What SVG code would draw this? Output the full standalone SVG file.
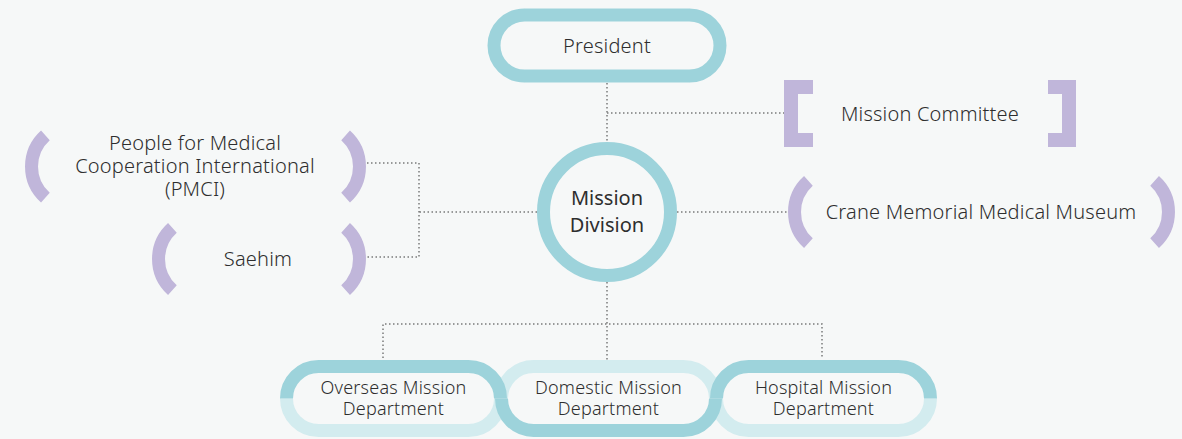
<svg xmlns="http://www.w3.org/2000/svg" width="1182" height="439" viewBox="0 0 1182 439">
<defs>
<style>
.bg{fill:#f6f8f8}
.t{font-family:"Noto Sans","Liberation Sans",sans-serif;fill:#2e2e2e;text-anchor:middle;font-weight:350;letter-spacing:0.2px}
.f20{font-size:20px}
.f18{font-size:18px}
.dk{fill:none;stroke:#9dd3db;stroke-width:13}
.lt{fill:none;stroke:#d3ecef;stroke-width:13}
.par{fill:none;stroke:#c0b6da;stroke-width:13}
.brk{fill:#c0b6da}
.dot{fill:none;stroke:#7a7a7a;stroke-width:1.5;stroke-dasharray:1.5 2.5}
</style>
</defs>
<rect class="bg" x="0" y="0" width="1182" height="439"/>
<g id="connectors">
<path class="dot" d="M607 83V142"/>
<path class="dot" d="M607 113H784"/>
<path class="dot" d="M537 212H419M367 163H419V257H367"/>
<path class="dot" d="M677 212H788"/>
<path class="dot" d="M607 282V360M383 358V324H822V358"/>
</g>
<g id="president">
<rect class="dk" x="494" y="15" width="226" height="61" rx="30.5"/>
<text class="t f20" x="607" y="53">President</text>
</g>
<g id="mission-division">
<circle class="dk" cx="607" cy="212" r="63.5"/>
<text class="t f20" x="607" y="205" style="font-weight:430;letter-spacing:0">Mission</text>
<text class="t f20" x="607" y="232" style="font-weight:430;letter-spacing:0">Division</text>
</g>
<g id="mission-committee">
<path class="brk" d="M784 80H813V94H798V133H813V147H784Z"/>
<path class="brk" d="M1076 80H1048V94H1062V133H1048V147H1076Z"/>
<text class="t f20" x="930" y="121">Mission Committee</text>
</g>
<g id="pmci">
<path class="par" d="M45.4 135.3A42 42 0 0 0 45.4 197.7"/>
<path class="par" d="M345.6 135.3A42 42 0 0 1 345.6 197.7"/>
<text class="t f20" x="195" y="150">People for Medical</text>
<text class="t f20" x="195" y="173">Cooperation International</text>
<text class="t f20" x="195" y="196">(PMCI)</text>
</g>
<g id="saehim">
<path class="par" d="M172.4 227.8A42 42 0 0 0 172.4 290.2"/>
<path class="par" d="M345.6 227.8A42 42 0 0 1 345.6 290.2"/>
<text class="t f20" x="258" y="266">Saehim</text>
</g>
<g id="crane">
<path class="par" d="M808.4 180.8A42 42 0 0 0 808.4 243.2"/>
<path class="par" d="M1154.6 180.8A42 42 0 0 1 1154.6 243.2"/>
<text class="t f20" x="981" y="219">Crane Memorial Medical Museum</text>
</g>
<g id="departments-light">
<path class="lt" d="M286.5 398.5A32 32 0 0 0 318.5 430.5H468.5A32 32 0 0 0 500.5 398.5"/>
<path class="lt" d="M501.5 398.5A32 32 0 0 1 533.5 366.5H683.5A32 32 0 0 1 715.5 398.5"/>
<path class="lt" d="M716.5 398.5A32 32 0 0 0 748.5 430.5H898.5A32 32 0 0 0 930.5 398.5"/>
</g>
<g id="overseas">
<path class="dk" d="M286.5 398.5A32 32 0 0 1 318.5 366.5H468.5A32 32 0 0 1 500.5 398.5"/>
<text class="t f18" x="393.5" y="394">Overseas Mission</text>
<text class="t f18" x="393.5" y="415">Department</text>
</g>
<g id="domestic">
<path class="dk" d="M501.5 398.5A32 32 0 0 0 533.5 430.5H683.5A32 32 0 0 0 715.5 398.5"/>
<text class="t f18" x="608.5" y="394">Domestic Mission</text>
<text class="t f18" x="608.5" y="415">Department</text>
</g>
<g id="hospital">
<path class="dk" d="M716.5 398.5A32 32 0 0 1 748.5 366.5H898.5A32 32 0 0 1 930.5 398.5"/>
<text class="t f18" x="823.5" y="394">Hospital Mission</text>
<text class="t f18" x="823.5" y="415">Department</text>
</g>
</svg>
